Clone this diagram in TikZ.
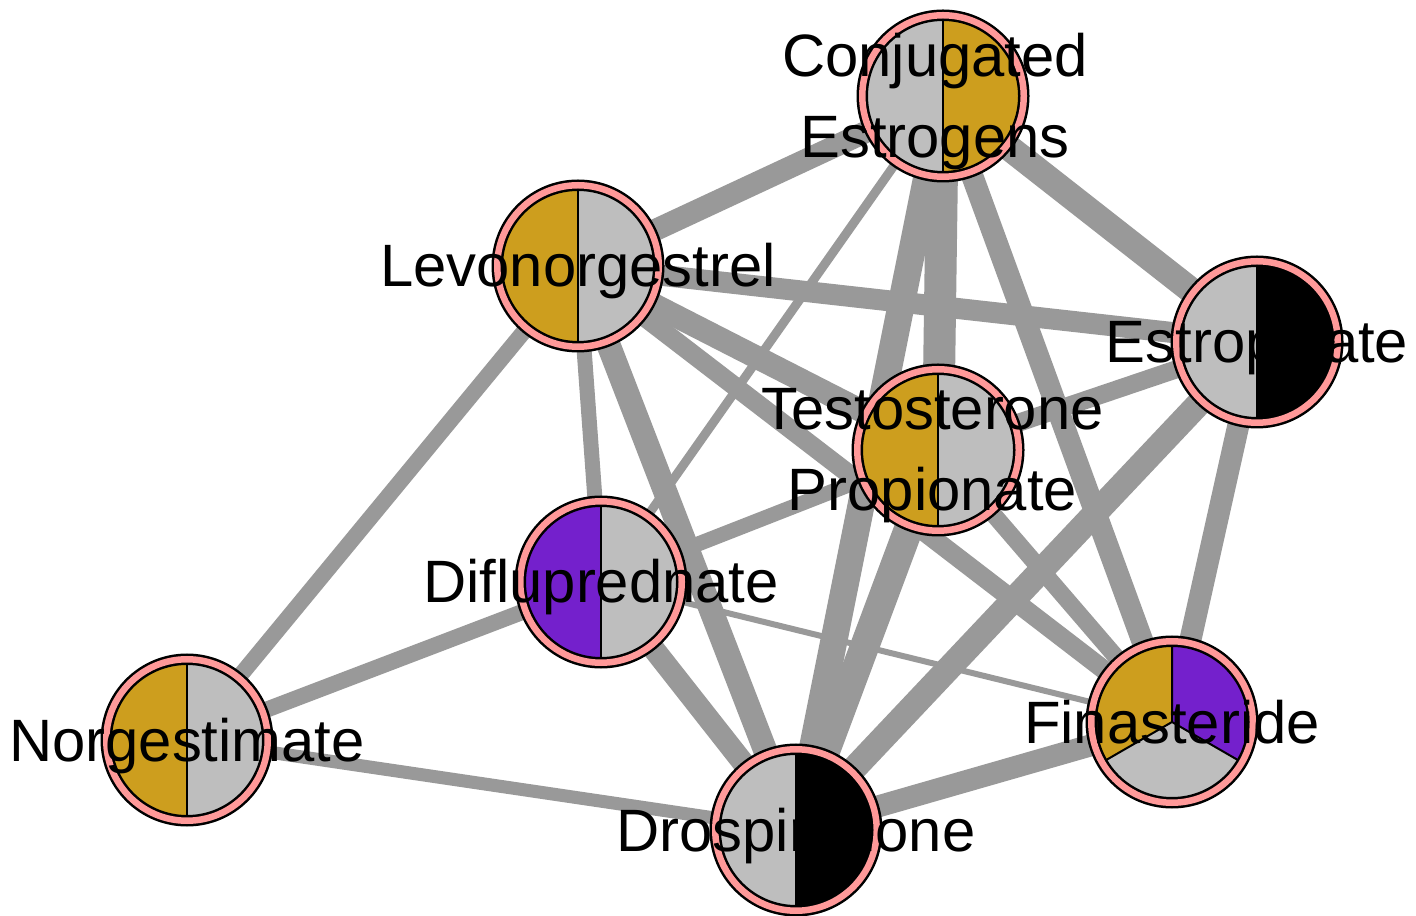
\documentclass[tikz,border=0pt]{standalone}
\usepackage{fontspec}
\newfontfamily\lblfont{Liberation Sans}
\usetikzlibrary{backgrounds}
\definecolor{gold}{RGB}{205,158,30}
\definecolor{drugpurple}{RGB}{116,32,204}
\definecolor{lgray}{RGB}{190,190,190}
\definecolor{ring}{RGB}{255,153,153}
\definecolor{egray}{RGB}{153,153,153}
\tikzset{
  drug/.style={circle, inner sep=0pt, minimum size=80.75pt, draw=black,
    line width=1.25pt, double=ring, double distance=3.25pt},
  half/.style 2 args={drug, path picture={
      \fill[#1] (path picture bounding box.south west) rectangle (path picture bounding box.north);
      \fill[#2] (path picture bounding box.south) rectangle (path picture bounding box.north east);
      \draw[line width=1pt] (path picture bounding box.south) -- (path picture bounding box.north);}},
  third/.style n args={3}{drug, path picture={
      \begin{scope}[shift={(path picture bounding box.center)}]
        \fill[#1] (0,0) -- (90:100pt) -- (150:100pt) -- (210:100pt) -- cycle;
        \fill[#2] (0,0) -- (210:100pt) -- (270:100pt) -- (330:100pt) -- cycle;
        \fill[#3] (0,0) -- (330:100pt) -- (30:100pt) -- (90:100pt) -- cycle;
        \draw[line width=1pt] (90:50pt) -- (0,0) -- (210:50pt) (0,0) -- (330:50pt);
      \end{scope}}},
  link/.style={draw=egray},
  lbl/.style={font=\lblfont\fontsize{29.9pt}{40.5pt}\selectfont, inner sep=0pt, anchor=base},
  lbltwo/.style={lbl, anchor=center, align=center}
}
\begin{document}
\begin{tikzpicture}[x=0.5pt,y=0.5pt]
  \useasboundingbox (0,0) rectangle (1416,915);
  % drugs
  \node[half={lgray}{gold}] (ce) at (943,819) {};
  \node[half={gold}{lgray}] (lev) at (578,649) {};
  \node[half={lgray}{black}] (est) at (1257,573) {};
  \node[half={gold}{lgray}] (tes) at (938,465) {};
  \node[half={drugpurple}{lgray}] (dif) at (601,333) {};
  \node[half={gold}{lgray}] (nor) at (187,175) {};
  \node[half={lgray}{black}] (dro) at (796,85) {};
  \node[third={gold}{lgray}{drugpurple}] (fin) at (1172,193) {};
  % links, width in px
  \begin{scope}[on background layer]
    \fill[white] (0,0) rectangle (1416,915);
    \foreach \a/\b/\w in {ce/lev/22, ce/est/26, ce/tes/32, ce/dro/27, ce/fin/22, ce/dif/9,
        lev/est/21, lev/tes/23, lev/fin/19, lev/dif/15, lev/dro/24, lev/nor/16,
        est/tes/18, est/dro/25, est/fin/22, tes/dif/15, tes/dro/29, tes/fin/17,
        dif/nor/16, dif/dro/22, dif/fin/6, nor/dro/13, dro/fin/22}
      \draw[link, line width=\w*0.5pt] (\a.center) -- (\b.center);
  \end{scope}
  % labels
  \node[lbltwo] (ce-t) at ([xshift=-4pt,yshift=-2.85pt]ce.center) {Conjugated\\Estrogens};
  \node[lbl] (lev-t) at ([yshift=-10.5pt]lev.center) {Levonorgestrel};
  \node[lbl] (est-t) at ([yshift=-10.5pt]est.center) {Estropipate};
  \node[lbltwo] (tes-t) at ([xshift=-2.75pt,yshift=-2.85pt]tes.center) {Testosterone\\Propionate};
  \node[lbl] (dif-t) at ([yshift=-10.5pt]dif.center) {Diflupred­nate};
  \node[lbl] (nor-t) at ([yshift=-10.5pt]nor.center) {Norgestimate};
  \node[lbl] (dro-t) at ([yshift=-10.5pt]dro.center) {Drospirenone};
  \node[lbl] (fin-t) at ([yshift=-10.5pt]fin.center) {Finasteride};
\end{tikzpicture}
\end{document}
